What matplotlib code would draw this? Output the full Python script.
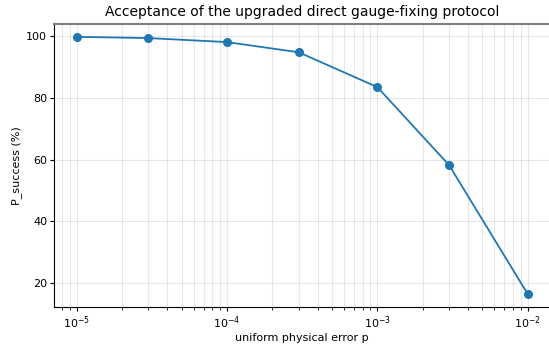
import matplotlib
matplotlib.use("Agg")
import matplotlib.pyplot as plt

# error rates and acceptance (%)
p_values = [1e-5, 3e-5, 1e-4, 3e-4, 1e-3, 3e-3, 1e-2]
p_success = [99.8, 99.4, 98.1, 94.8, 83.5, 58.2, 16.4]

fig = plt.figure(figsize=(5.49, 3.44), dpi=100)
ax = fig.add_axes([0.0984, 0.1076, 0.904, 0.8227])

ax.plot(p_values, p_success, marker='o', color='tab:blue', lw=1.3, markersize=5.5)
ax.set_xscale('log')

ax.grid(True, which='major', alpha=0.3)
ax.grid(True, which='minor', axis='x', alpha=0.3)

ax.spines['right'].set_visible(False)
ax.spines['top'].set_color('gray')
ax.spines['top'].set_linewidth(1.5)

ax.set_title("Acceptance of the upgraded direct gauge-fixing protocol", fontsize=10)
ax.set_xlabel("uniform physical error p", fontsize=8, labelpad=2)
ax.set_ylabel("P_success (%)", fontsize=8, labelpad=3)
ax.tick_params(labelsize=8, length=3, pad=2)
ax.tick_params(which='minor', length=1.8)

fig.savefig("out.png", dpi=100)
